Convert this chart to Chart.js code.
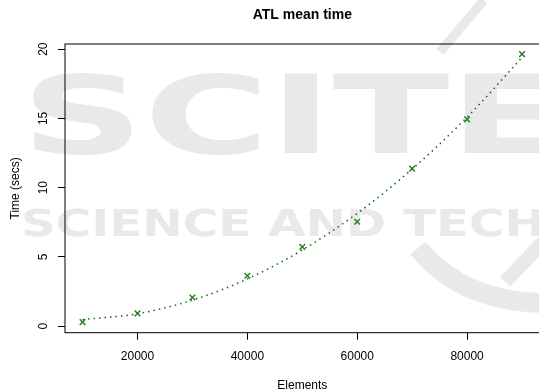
<!DOCTYPE html>
<html>
<head>
<meta charset="utf-8">
<title>ATL mean time</title>
<script src="https://cdn.jsdelivr.net/npm/chart.js@4"></script>
<style>
  html, body { margin: 0; padding: 0; background: #fff; overflow: hidden; }
  #wrap { width: 545px; height: 392px; }
</style>
</head>
<body>
<div id="wrap"><canvas id="timeCanvas" width="545" height="392"></canvas></div>
<script>
// values
const elements = [10000, 20000, 30000, 40000, 50000, 60000, 70000, 80000, 90000];
const meanTimes = [0.29, 0.92, 2.07, 3.64, 5.73, 7.54, 11.37, 14.93, 19.64];
const fittedTimes = [0.48, 0.90, 1.88, 3.41, 5.50, 8.14, 11.34, 15.09, 19.40];

const xTickValues = [20000, 40000, 60000, 80000];
const yTickValues = [0, 5, 10, 15, 20];

const titleText = 'ATL mean time';
const xTitle = 'Elements';
const yTitle = 'Time (secs)';

const FONT = '"Liberation Sans", Arial, Helvetica, sans-serif';
const green = '#0b6e0b';

// faint publisher watermark behind the plot + R style box, title, rotated y labels
const rFrame = {
  id: 'rFrame',
  beforeDraw(chart) {
    const ctx = chart.ctx;
    ctx.save();
    ctx.fillStyle = '#fff';
    ctx.fillRect(0, 0, chart.width, chart.height);

    ctx.fillStyle = '#e9e9e9';
    ctx.strokeStyle = '#e9e9e9';
    ctx.textBaseline = 'alphabetic';
    ctx.textAlign = 'left';

    ctx.font = 'bold 108px "DejaVu Sans"';
    let w = ctx.measureText('SCITE').width;
    ctx.save();
    ctx.translate(21, 153);
    ctx.scale(545 / w, 1);
    ctx.fillText('SCITE', 0, 0);
    ctx.restore();

    ctx.font = 'bold 37px "DejaVu Sans"';
    w = ctx.measureText('SCIENCE AND TECH').width;
    ctx.save();
    ctx.translate(21, 236);
    ctx.scale(524 / w, 1);
    ctx.fillText('SCIENCE AND TECHNOLOGY', 0, 0);
    ctx.restore();

    ctx.lineCap = 'butt';
    ctx.lineWidth = 9;
    ctx.beginPath();
    ctx.moveTo(484, 0);
    ctx.lineTo(440, 52);
    ctx.stroke();

    ctx.lineWidth = 20;
    ctx.beginPath();
    ctx.moveTo(418, 248);
    ctx.quadraticCurveTo(462, 302, 545, 303);
    ctx.stroke();
    ctx.lineWidth = 14;
    ctx.beginPath();
    ctx.moveTo(545, 240);
    ctx.lineTo(505, 282);
    ctx.stroke();
    ctx.restore();
  },
  afterDraw(chart) {
    const ctx = chart.ctx;
    const a = chart.chartArea;
    ctx.save();
    ctx.strokeStyle = '#000';
    ctx.lineWidth = 1;
    ctx.strokeRect(a.left, a.top, a.right - a.left, a.bottom - a.top);

    ctx.fillStyle = '#000';
    ctx.font = 'bold 14px ' + FONT;
    ctx.textAlign = 'center';
    ctx.textBaseline = 'middle';
    ctx.fillText(titleText, (a.left + a.right) / 2, 15);

    const y = chart.scales.y;
    ctx.font = '12px ' + FONT;
    y.ticks.forEach(t => {
      ctx.save();
      ctx.translate(43.5, y.getPixelForValue(t.value));
      ctx.rotate(-Math.PI / 2);
      ctx.fillText(String(t.value), 0, 0);
      ctx.restore();
    });
    ctx.restore();
  }
};

const fitPoints = elements.map((x, i) => ({ x: x, y: fittedTimes[i] }));
const meanPoints = elements.map((x, i) => ({ x: x, y: meanTimes[i] }));

const timeChart = new Chart(document.getElementById('timeCanvas'), {
  type: 'scatter',
  data: {
    datasets: [{
      label: 'fit',
      data: fitPoints,
      showLine: true,
      borderColor: green,
      borderWidth: 1.5,
      borderDash: [1.5, 4],
      cubicInterpolationMode: 'monotone',
      pointRadius: 0,
      order: 2
    }, {
      label: 'mean',
      data: meanPoints,
      pointStyle: 'crossRot',
      pointRadius: 4,
      borderColor: '#1f7d1f',
      borderWidth: 1.4,
      order: 1
    }]
  },
  options: {
    responsive: false,
    animation: false,
    layout: { padding: { top: 44, right: 4.4, left: 0, bottom: 0 } },
    plugins: {
      legend: { display: false },
      tooltip: { enabled: false },
      title: { display: false }
    },
    scales: {
      x: {
        type: 'linear',
        position: 'bottom',
        min: 6800,
        max: 93200,
        border: { display: false },
        grid: { drawOnChartArea: false, drawTicks: true, tickLength: 7, color: '#000', lineWidth: 1 },
        afterBuildTicks: s => { s.ticks = xTickValues.map(v => ({ value: v })); },
        ticks: {
          autoSkip: false,
          maxRotation: 0,
          padding: 10,
          color: '#000',
          font: { family: FONT, size: 12 },
          callback: v => String(v)
        },
        title: {
          display: true,
          text: xTitle,
          color: '#000',
          font: { family: FONT, size: 12, lineHeight: 1.1 },
          padding: { top: 0, bottom: 0 }
        },
        afterFit: s => { s.height = 59.3; }
      },
      y: {
        type: 'linear',
        min: -0.47,
        max: 20.37,
        border: { display: false },
        grid: { drawOnChartArea: false, drawTicks: true, tickLength: 7, color: '#000', lineWidth: 1 },
        afterBuildTicks: s => { s.ticks = yTickValues.map(v => ({ value: v })); },
        ticks: {
          color: 'rgba(0,0,0,0)',
          font: { family: FONT, size: 12 }
        },
        title: {
          display: true,
          text: yTitle,
          color: '#000',
          font: { family: FONT, size: 12, lineHeight: 1.2 },
          padding: { top: 8, bottom: 0 }
        },
        afterFit: s => { s.width = 65; }
      }
    }
  },
  plugins: [rFrame]
});
</script>
</body>
</html>
